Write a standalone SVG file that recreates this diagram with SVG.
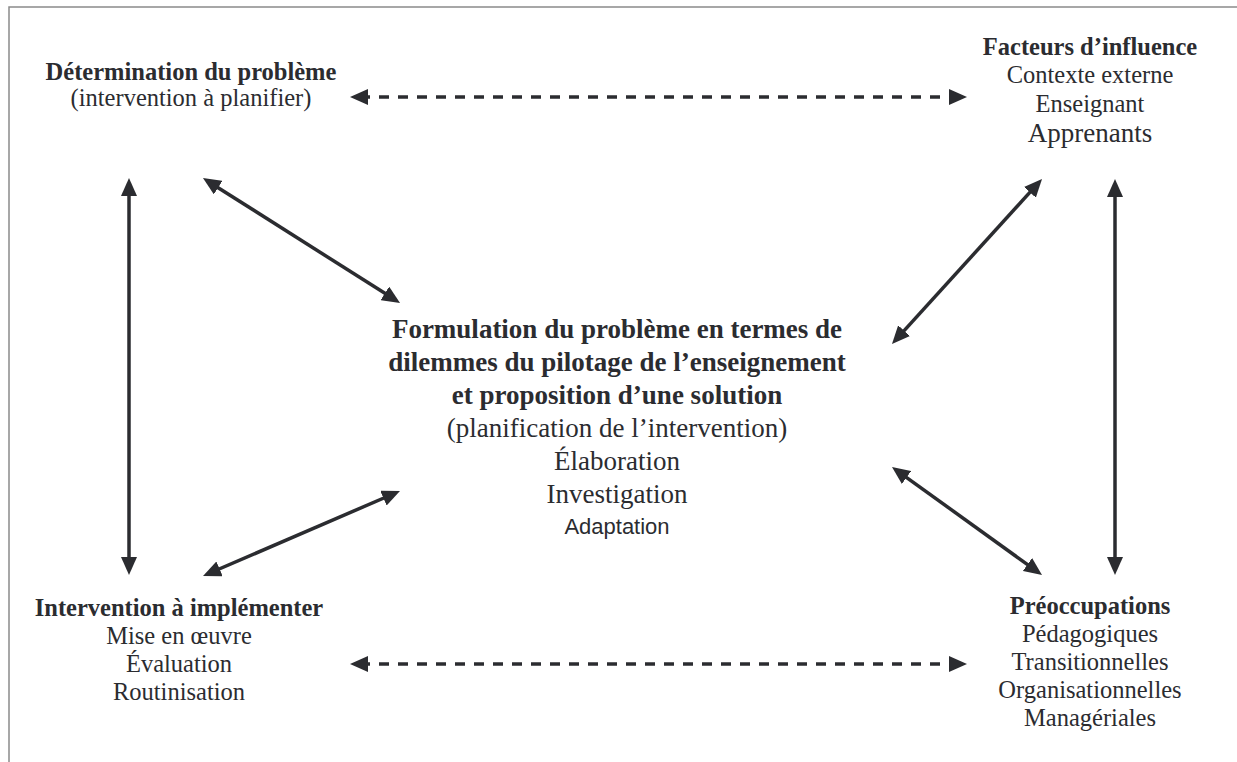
<svg xmlns="http://www.w3.org/2000/svg" width="1237" height="762" viewBox="0 0 1237 762">
<style>
text{font-family:"Liberation Serif","Times New Roman",serif;fill:#2b2c30;text-anchor:middle}
.h{font-weight:bold;font-size:24.5px}
.r{font-size:24.5px}
.ch{font-weight:bold;font-size:27px}
.cr{font-size:27px}
.sans{font-family:"Liberation Sans",Arial,sans-serif;font-size:22px}
.ln{stroke:#2b2c30;stroke-width:3.5;fill:none;marker-start:url(#ah);marker-end:url(#ah)}
.dash{stroke-dasharray:10 9}
</style>
<defs>
<marker id="ah" markerUnits="userSpaceOnUse" viewBox="0 0 18 16" markerWidth="18" markerHeight="16" refX="8" refY="8" orient="auto-start-reverse">
<path d="M0,0 L18,8 L0,16 z" fill="#2b2c30"/>
</marker>
</defs>
<rect width="1237" height="762" fill="#fff"/>
<path d="M9,762 V7 H1237" fill="none" stroke="#8a8a8a" stroke-width="1.5"/>
<g id="connectors">
<line class="ln dash" x1="360" y1="97" x2="957" y2="97"/>
<line class="ln dash" x1="360" y1="664" x2="957" y2="664"/>
<line class="ln" x1="129" y1="188" x2="129" y2="565"/>
<line class="ln" x1="1115" y1="189" x2="1115" y2="565"/>
<line class="ln" x1="211.4" y1="183.4" x2="391.6" y2="297.6"/>
<line class="ln" x1="1035.3" y1="186.4" x2="898.7" y2="336.6"/>
<line class="ln" x1="390.8" y1="495" x2="212.2" y2="572"/>
<line class="ln" x1="900.1" y1="472.8" x2="1033.9" y2="569.2"/>
</g>
<g id="determination">
<text class="h" x="191" y="80">Détermination du problème</text>
<text class="r" x="191" y="106">(intervention à planifier)</text>
</g>
<g id="facteurs">
<text class="h" x="1090" y="55">Facteurs d’influence</text>
<text class="r" x="1090" y="83">Contexte externe</text>
<text class="r" x="1090" y="112">Enseignant</text>
<text class="cr" x="1090" y="142">Apprenants</text>
</g>
<g id="formulation">
<text class="ch" x="617" y="338">Formulation du problème en termes de</text>
<text class="ch" x="617" y="371">dilemmes du pilotage de l’enseignement</text>
<text class="ch" x="617" y="404">et proposition d’une solution</text>
<text class="cr" x="617" y="437">(planification de l’intervention)</text>
<text class="cr" x="617" y="470">Élaboration</text>
<text class="cr" x="617" y="503">Investigation</text>
<text class="sans" x="617" y="534">Adaptation</text>
</g>
<g id="intervention">
<text class="h" x="179" y="616">Intervention à implémenter</text>
<text class="r" x="179" y="644">Mise en œuvre</text>
<text class="r" x="179" y="672">Évaluation</text>
<text class="r" x="179" y="700">Routinisation</text>
</g>
<g id="preoccupations">
<text class="h" x="1090" y="614">Préoccupations</text>
<text class="r" x="1090" y="642">Pédagogiques</text>
<text class="r" x="1090" y="670">Transitionnelles</text>
<text class="r" x="1090" y="698">Organisationnelles</text>
<text class="r" x="1090" y="726">Managériales</text>
</g>
</svg>
